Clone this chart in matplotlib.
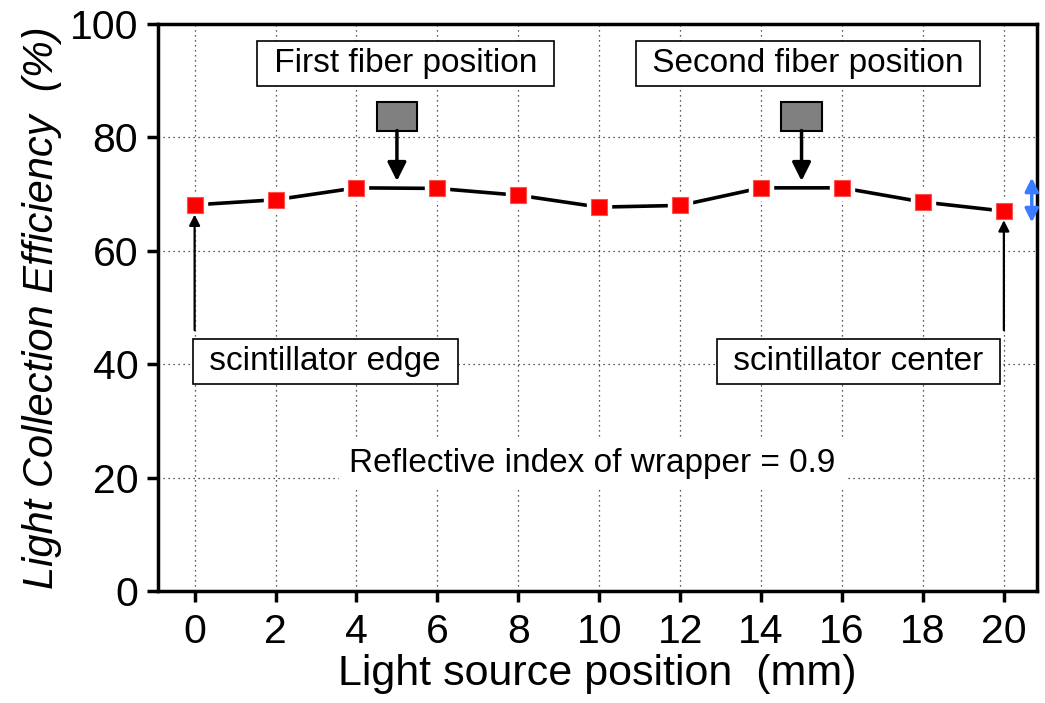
import matplotlib
matplotlib.use("Agg")
import matplotlib.pyplot as plt
from matplotlib.patches import Rectangle

plt.rcParams["font.family"] = ["Liberation Sans", "DejaVu Sans"]

# === datos ===
posicion_mm = [0, 2, 4, 6, 8, 10, 12, 14, 16, 18, 20]
eficiencia = [68.1, 69.0, 71.1, 71.0, 69.8, 67.7, 68.0, 71.1, 71.1, 68.6, 67.0]
xticks = [0, 2, 4, 6, 8, 10, 12, 14, 16, 18, 20]
yticks = [0, 20, 40, 60, 80, 100]

fig = plt.figure(figsize=(10.45, 7.03), dpi=100)
ax = fig.add_axes([0.151, 0.1593, 0.841, 0.8066])

# linea + hueco blanco alrededor de los marcadores + marcadores
ax.plot(posicion_mm, eficiencia, color="black", lw=2.6, zorder=3)
ax.plot(posicion_mm, eficiencia, ls="none", marker="s", ms=17, color="white", zorder=4)
ax.plot(posicion_mm, eficiencia, ls="none", marker="s", ms=11.5,
        mfc="#ff0000", mec="#ff5050", mew=0.8, zorder=5)

ax.set_xlim(-0.91, 20.81)
ax.set_ylim(0, 100)
ax.set_xticks(xticks)
ax.set_yticks(yticks)
ax.grid(True, linestyle=(0, (1, 3)), color="#222222", lw=0.9, zorder=0)

for s in ax.spines.values():
    s.set_linewidth(2.5)
ax.tick_params(direction="out", length=8, width=2.5, labelsize=29.5)
ax.tick_params(axis="y", pad=6)
ax.tick_params(axis="x", pad=8)

ax.set_xlabel("Light source position  (mm)", fontsize=31, labelpad=2)
ax.set_ylabel("Light Collection Efficiency  (%)", fontsize=30, style="italic", labelpad=6)

# === anotaciones ===
caja = dict(boxstyle="square,pad=0.22", fc="white", ec="black", lw=1.2)
ax.text(5.21, 93.0, " First fiber position ", fontsize=24, ha="center", va="center", bbox=caja, zorder=6)
ax.text(15.16, 93.0, " Second fiber position ", fontsize=24, ha="center", va="center", bbox=caja, zorder=6)
ax.text(3.23, 40.5, " scintillator edge ", fontsize=24, ha="center", va="center", bbox=caja, zorder=6)
ax.text(16.4, 40.5, " scintillator center ", fontsize=24, ha="center", va="center", bbox=caja, zorder=6)
ax.text(9.83, 22.5, "Reflective index of wrapper = 0.9", fontsize=24, ha="center", va="center",
        bbox=dict(boxstyle="square,pad=0.3", fc="white", ec="none"), zorder=6)

for xf in [5, 15]:
    ax.add_patch(Rectangle((xf - 0.5, 81.2), 1.0, 5.0, fc="#808080", ec="black", lw=1.5, zorder=6))
    ax.annotate("", xy=(xf, 72.3), xytext=(xf, 81.2),
                arrowprops=dict(arrowstyle="-|>", lw=2.5, color="black", mutation_scale=28,
                                shrinkA=0, shrinkB=0), zorder=6)

ax.annotate("", xy=(0, 66.4), xytext=(0, 46.0),
            arrowprops=dict(arrowstyle="-|>", lw=1.6, color="black", mutation_scale=16,
                            shrinkA=0, shrinkB=0), zorder=6)
ax.annotate("", xy=(20, 65.4), xytext=(20, 46.0),
            arrowprops=dict(arrowstyle="-|>", lw=1.6, color="black", mutation_scale=16,
                            shrinkA=0, shrinkB=0), zorder=6)

# flecha azul doble
ax.annotate("", xy=(20.69, 65.0), xytext=(20.69, 72.9),
            arrowprops=dict(arrowstyle="<|-|>", lw=2.5, color="#3a7bff", mutation_scale=20,
                            shrinkA=0, shrinkB=0), zorder=6)

fig.savefig("out.png", dpi=100)
